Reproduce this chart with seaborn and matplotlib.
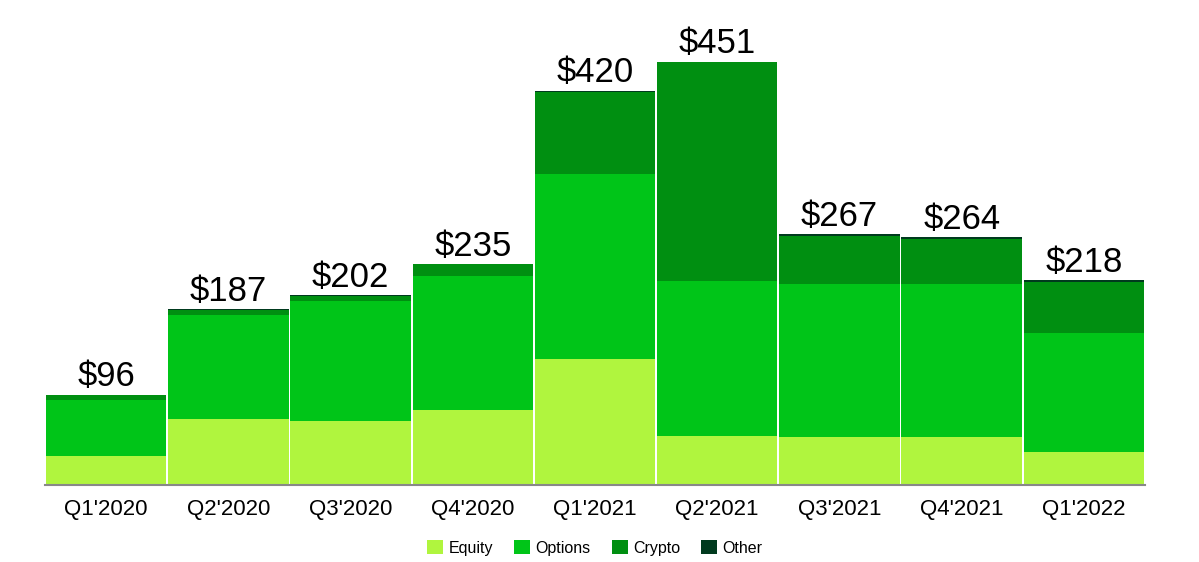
import numpy as np
import pandas as pd
import matplotlib
matplotlib.use("Agg")
import matplotlib.pyplot as plt
import seaborn as sns

sns.set_style("white")
plt.rcParams['font.family'] = ['Liberation Sans', 'DejaVu Sans']

# transaction revenue by quarter, $M
quarters = ["Q1'2020", "Q2'2020", "Q3'2020", "Q4'2020", "Q1'2021",
            "Q2'2021", "Q3'2021", "Q4'2021", "Q1'2022"]
equity = [31, 70, 68, 80, 134, 52, 51, 51, 35]
options = [60, 111, 128, 143, 197, 165, 163, 163, 127]
crypto = [5, 5, 5, 12, 88, 233, 51, 48, 54]
other = [0, 1, 1, 0, 1, 1, 2, 2, 2]
totals = [96, 187, 202, 235, 420, 451, 267, 264, 218]

series = ["Equity", "Options", "Crypto", "Other"]
colors = ["#b0f53e", "#00c518", "#008f11", "#003a1e"]

df = pd.DataFrame({"quarter": quarters, "Equity": equity, "Options": options,
                   "Crypto": crypto, "Other": other})

fig = plt.figure(figsize=(11.99, 5.62), dpi=100)
ax = fig.add_axes([0.0375, 0.137, 0.9175, 0.827])

# stacked bars: draw cumulative sums from top layer down
cum = df[series].cumsum(axis=1)
for name, col in reversed(list(zip(series, colors))):
    sns.barplot(x=df["quarter"], y=cum[name], color=col, width=0.985,
                saturation=1, linewidth=0, ax=ax, label=name)

for i, t in enumerate(totals):
    ax.text(i, cum["Other"][i] + 1.5, f"${t}", ha="center", va="bottom",
            fontsize=25, color="black")

ax.set_ylim(0, 495)
ax.set_xlim(-0.5, len(quarters) - 0.5)
ax.set_xlabel("")
ax.set_ylabel("")
ax.set_yticks([])
for s in ["top", "right", "left"]:
    ax.spines[s].set_visible(False)
ax.spines["bottom"].set_color("#888888")
ax.spines["bottom"].set_linewidth(1.5)
ax.tick_params(axis="x", length=0, pad=10, labelsize=16, labelcolor="black")

handles, labels = ax.get_legend_handles_labels()
order = [labels.index(s) for s in series]
leg = ax.legend([handles[k] for k in order], series, loc="center",
                bbox_to_anchor=(0.5, -0.135), ncol=4, frameon=False, fontsize=11.5,
                handlelength=1.0, handleheight=1.0, handletextpad=0.35,
                columnspacing=1.3)
for t in leg.get_texts():
    t.set_color("black")

fig.savefig("out.png", dpi=100)
